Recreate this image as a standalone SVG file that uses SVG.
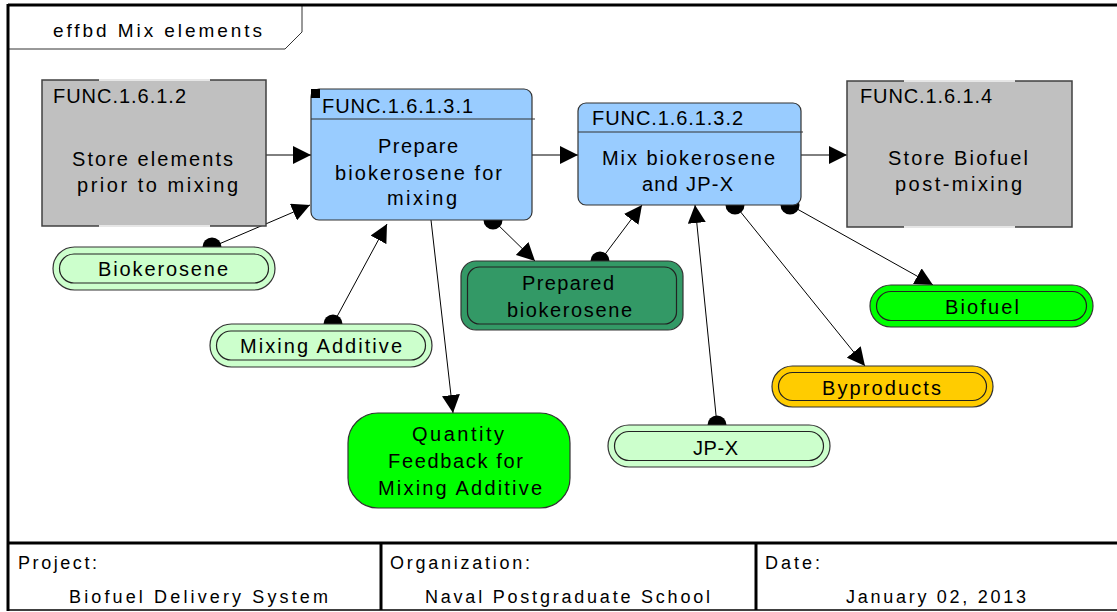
<svg xmlns="http://www.w3.org/2000/svg" width="1117" height="612" viewBox="0 0 1117 612">
<style>
text{font-family:"Liberation Sans",Arial,sans-serif;font-size:20px;fill:#000;}
.tbl{font-size:18px;}
.frame{stroke:#000;stroke-width:3;fill:none;}
.gray{fill:#c0c0c0;stroke:#404040;stroke-width:1.5;}
.lite{stroke:#e6e6e6;stroke-width:2;}
.blue{fill:#99ccff;stroke:#333;stroke-width:1.2;}
.pill{stroke:#333;stroke-width:1.2;}
.inner{fill:none;stroke:#222;stroke-width:1.2;}
.con{stroke:#000;stroke-width:1;fill:none;}
.dot{fill:#000;}
</style>
<defs>
<marker id="arr" markerUnits="userSpaceOnUse" markerWidth="18" markerHeight="18" refX="18" refY="9" orient="auto">
<path d="M0,0 L18,9 L0,18 z" fill="#000"/>
</marker>
</defs>
<rect x="0" y="0" width="1117" height="612" fill="#fff"/>
<g id="frame">
<path d="M8,5 H302 V32 L285,49 H8" fill="#fff" stroke="#333" stroke-width="1"/>
<text x="53" y="37" style="font-size:19px" textLength="209" lengthAdjust="spacing">effbd Mix elements</text>
<line class="frame" x1="8" y1="5" x2="1117" y2="5"/>
<line class="frame" x1="8" y1="4" x2="8" y2="611"/>
<line class="frame" x1="8" y1="543" x2="1117" y2="543"/>
<line x1="8" y1="610" x2="1117" y2="610" stroke="#000" stroke-width="1.5"/>
<line class="frame" x1="381" y1="543" x2="381" y2="610"/>
<line class="frame" x1="756" y1="543" x2="756" y2="610"/>
<text class="tbl" x="18" y="569" textLength="79" lengthAdjust="spacing">Project:</text>
<text class="tbl" x="69" y="603" textLength="259" lengthAdjust="spacing">Biofuel Delivery System</text>
<text class="tbl" x="390" y="569" textLength="140" lengthAdjust="spacing">Organization:</text>
<text class="tbl" x="425" y="603" textLength="285" lengthAdjust="spacing">Naval Postgraduate School</text>
<text class="tbl" x="765" y="569" textLength="55" lengthAdjust="spacing">Date:</text>
<text class="tbl" x="846" y="603" textLength="180" lengthAdjust="spacing">January 02, 2013</text>
</g>
<g id="connectors">
<line class="con" x1="266" y1="155" x2="311" y2="155" marker-end="url(#arr)"/>
<line class="con" x1="532" y1="155" x2="578" y2="155" marker-end="url(#arr)"/>
<line class="con" x1="801" y1="155" x2="847" y2="155" marker-end="url(#arr)"/>
<circle class="dot" cx="212" cy="247" r="9.5"/>
<line class="con" x1="212" y1="247" x2="310" y2="205" marker-end="url(#arr)"/>
<circle class="dot" cx="333" cy="324" r="9.5"/>
<line class="con" x1="333" y1="324" x2="387" y2="224" marker-end="url(#arr)"/>
<line class="con" x1="431" y1="220" x2="453" y2="413" marker-end="url(#arr)"/>
<circle class="dot" cx="493" cy="220" r="9.5"/>
<line class="con" x1="493" y1="220" x2="535" y2="261" marker-end="url(#arr)"/>
<circle class="dot" cx="600" cy="261" r="9.5"/>
<line class="con" x1="600" y1="261" x2="642" y2="205" marker-end="url(#arr)"/>
<circle class="dot" cx="717" cy="425" r="9.5"/>
<line class="con" x1="717" y1="425" x2="695" y2="205" marker-end="url(#arr)"/>
<circle class="dot" cx="735" cy="205" r="9.5"/>
<line class="con" x1="735" y1="205" x2="865" y2="366" marker-end="url(#arr)"/>
<circle class="dot" cx="790" cy="205" r="9.5"/>
<line class="con" x1="790" y1="205" x2="933" y2="285" marker-end="url(#arr)"/>
</g>
<g id="func_1_6_1_2">
<rect class="gray" x="42" y="80" width="224" height="146"/>
<line class="lite" x1="99" y1="80" x2="210" y2="80"/>
<line class="lite" x1="99" y1="226" x2="210" y2="226"/>
<text x="53" y="103" textLength="133" lengthAdjust="spacing">FUNC.1.6.1.2</text>
<text x="72" y="166" textLength="161" lengthAdjust="spacing">Store elements</text>
<text x="77" y="192" textLength="161" lengthAdjust="spacing">prior to mixing</text>
</g>
<g id="func_1_6_1_3_1">
<rect class="blue" x="311" y="89" width="221" height="131" rx="8"/>
<line x1="311" y1="119" x2="535" y2="119" stroke="#333" stroke-width="1.2"/>
<rect x="311" y="89" width="9" height="9" fill="#000"/>
<text x="322" y="113" textLength="151" lengthAdjust="spacing">FUNC.1.6.1.3.1</text>
<text x="378" y="153" textLength="80" lengthAdjust="spacing">Prepare</text>
<text x="335" y="180" textLength="167" lengthAdjust="spacing">biokerosene for</text>
<text x="387" y="205" textLength="70" lengthAdjust="spacing">mixing</text>
</g>
<g id="func_1_6_1_3_2">
<rect class="blue" x="578" y="103" width="223" height="102" rx="8"/>
<line x1="578" y1="132" x2="803" y2="132" stroke="#333" stroke-width="1.2"/>
<text x="592" y="125" textLength="151" lengthAdjust="spacing">FUNC.1.6.1.3.2</text>
<text x="602" y="165" textLength="173" lengthAdjust="spacing">Mix biokerosene</text>
<text x="642" y="191" textLength="91" lengthAdjust="spacing">and JP-X</text>
</g>
<g id="func_1_6_1_4">
<rect class="gray" x="847" y="81" width="225" height="146"/>
<line class="lite" x1="904" y1="81" x2="1015" y2="81"/>
<line class="lite" x1="904" y1="227" x2="1015" y2="227"/>
<text x="860" y="103" textLength="132" lengthAdjust="spacing">FUNC.1.6.1.4</text>
<text x="888" y="165" textLength="140" lengthAdjust="spacing">Store Biofuel</text>
<text x="895" y="191" textLength="127" lengthAdjust="spacing">post-mixing</text>
</g>
<g id="biokerosene">
<rect class="pill" x="53" y="247" width="222" height="43" rx="21.5" fill="#ccffcc"/>
<rect class="inner" x="59.5" y="254" width="209" height="29" rx="14.5"/>
<text x="98" y="276" textLength="130" lengthAdjust="spacing">Biokerosene</text>
</g>
<g id="mixing_additive">
<rect class="pill" x="210" y="324" width="222" height="43" rx="21.5" fill="#ccffcc"/>
<rect class="inner" x="216.5" y="331" width="209" height="29" rx="14.5"/>
<text x="240" y="353" textLength="162" lengthAdjust="spacing">Mixing Additive</text>
</g>
<g id="prepared_biokerosene">
<rect class="pill" x="461" y="261" width="222" height="69" rx="15" fill="#339966"/>
<rect class="inner" x="467.5" y="267" width="209" height="57" rx="12"/>
<text x="522" y="290" textLength="92" lengthAdjust="spacing">Prepared</text>
<text x="507" y="317" textLength="125" lengthAdjust="spacing">biokerosene</text>
</g>
<g id="quantity_feedback">
<rect class="pill" x="348" y="413" width="222" height="95" rx="30" fill="#00ff00"/>
<text x="412" y="441" textLength="92" lengthAdjust="spacing">Quantity</text>
<text x="388" y="468" textLength="135" lengthAdjust="spacing">Feedback for</text>
<text x="378" y="495" textLength="164" lengthAdjust="spacing">Mixing Additive</text>
</g>
<g id="jp_x">
<rect class="pill" x="608" y="425" width="222" height="42" rx="21" fill="#ccffcc"/>
<rect class="inner" x="614.5" y="431.5" width="209" height="29" rx="14.5"/>
<text x="693" y="455" textLength="45" lengthAdjust="spacing">JP-X</text>
</g>
<g id="byproducts">
<rect class="pill" x="772" y="366" width="221" height="41" rx="20.5" fill="#ffcc00"/>
<rect class="inner" x="778.5" y="372.5" width="208" height="28" rx="14"/>
<text x="822" y="395" textLength="119" lengthAdjust="spacing">Byproducts</text>
</g>
<g id="biofuel">
<rect class="pill" x="870" y="285" width="223" height="42" rx="21" fill="#00ff00"/>
<rect class="inner" x="876.5" y="291.5" width="210" height="29" rx="14.5"/>
<text x="945" y="314" textLength="74" lengthAdjust="spacing">Biofuel</text>
</g>
</svg>
